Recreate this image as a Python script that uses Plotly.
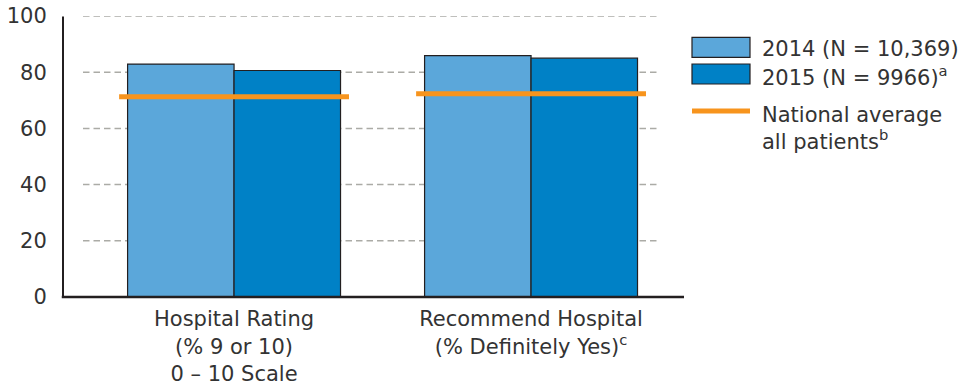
import plotly.graph_objects as go

# ---- data ----
categories = ["Hospital Rating<br>(% 9 or 10)<br>0 – 10 Scale",
              "Recommend Hospital<br>(% Definitely Yes)<sup>c</sup>"]
series_names = ["2014 (N = 10,369)", "2015 (N = 9966)<sup>a</sup>"]
values_2014 = [82.9, 85.9]
values_2015 = [80.6, 85.0]
national_avg = [71.3, 72.3]
national_label = "National average<br>all patients<sup>b</sup>"
y_ticks = [0, 20, 40, 60, 80, 100]

# ---- styles ----
LIGHT = "#5BA7DA"
DARK = "#0081C6"
ORANGE = "#F7941D"
OUTLINE = "#231F20"
TEXT = "#333333"
GRID = "#ABABA6"
FONT = "DejaVu Sans"
FS = 21

W, H = 958, 390
ML, MR, MT, MB = 63, 274, 16, 93
plot_w = W - ML - MR
plot_h = H - MT - MB

def px_x(p):
    return (p - ML) / plot_w

def px_y(p):
    return (H - MB - p) / plot_h

xpos = list(range(len(categories)))
fig = go.Figure()
fig.add_trace(go.Bar(x=xpos, y=values_2014, name=series_names[0],
                     marker=dict(color=LIGHT, line=dict(color=OUTLINE, width=1.2)),
                     showlegend=False))
fig.add_trace(go.Bar(x=xpos, y=values_2015, name=series_names[1],
                     marker=dict(color=DARK, line=dict(color=OUTLINE, width=1.2)),
                     showlegend=False))

half = 0.387
for i, v in zip(xpos, national_avg):
    fig.add_trace(go.Scatter(x=[i - half, i + half], y=[v, v], mode="lines",
                             line=dict(color=ORANGE, width=5), showlegend=False,
                             hoverinfo="skip"))

shapes = []
for t in y_ticks[1:]:
    shapes.append(dict(type="line", xref="paper", yref="y",
                       x0=px_x(83), x1=px_x(660), y0=t, y1=t,
                       line=dict(color=GRID, width=1.5, dash="6.5px,4px"),
                       layer="below"))
# axes lines
shapes.append(dict(type="line", xref="paper", yref="paper", x0=0, x1=0,
                   y0=0, y1=px_y(16.5), line=dict(color=OUTLINE, width=2)))
shapes.append(dict(type="line", xref="paper", yref="paper", x0=-0.002, x1=px_x(684),
                   y0=0, y1=0, line=dict(color=OUTLINE, width=2.5)))

# custom legend
sw_x0, sw_x1 = px_x(692), px_x(750)
shapes.append(dict(type="rect", xref="paper", yref="paper", x0=sw_x0, x1=sw_x1,
                   y0=px_y(57.3), y1=px_y(37.3), fillcolor=LIGHT,
                   line=dict(color=OUTLINE, width=1.2)))
shapes.append(dict(type="rect", xref="paper", yref="paper", x0=sw_x0, x1=sw_x1,
                   y0=px_y(84), y1=px_y(64), fillcolor=DARK,
                   line=dict(color=OUTLINE, width=1.2)))
shapes.append(dict(type="line", xref="paper", yref="paper", x0=sw_x0, x1=sw_x1,
                   y0=px_y(111), y1=px_y(111), line=dict(color=ORANGE, width=5)))

annotations = [
    dict(xref="paper", yref="paper", x=px_x(760), y=px_y(49), text=series_names[0],
         showarrow=False, xanchor="left", yanchor="middle",
         font=dict(family=FONT, size=FS, color=TEXT)),
    dict(xref="paper", yref="paper", x=px_x(760), y=px_y(75.5), text=series_names[1],
         showarrow=False, xanchor="left", yanchor="middle",
         font=dict(family=FONT, size=FS, color=TEXT)),
    dict(xref="paper", yref="paper", x=px_x(760), y=px_y(128), text=national_label,
         showarrow=False, xanchor="left", yanchor="middle", align="left",
         font=dict(family=FONT, size=FS, color=TEXT)),
]

fig.update_layout(
    width=W, height=H,
    margin=dict(l=ML, r=MR, t=MT, b=MB, pad=0, autoexpand=False),
    paper_bgcolor="white", plot_bgcolor="white",
    barmode="group", bargap=0.283, bargroupgap=0,
    font=dict(family=FONT, size=FS, color=TEXT),
    shapes=shapes, annotations=annotations,
    xaxis=dict(range=[-0.576, 1.515], tickmode="array", tickvals=xpos,
               ticktext=categories, showgrid=False, zeroline=False, showline=False,
               ticks="outside", ticklen=3, tickcolor="rgba(0,0,0,0)", automargin=False,
               tickfont=dict(family=FONT, size=FS, color=TEXT)),
    yaxis=dict(range=[0, 100], tickmode="array", tickvals=y_ticks,
               showgrid=False, zeroline=False, showline=False,
               ticks="outside", ticklen=11, tickcolor="rgba(0,0,0,0)", automargin=False,
               tickfont=dict(family=FONT, size=FS, color=TEXT)),
    showlegend=False,
)

fig.write_html("out.html")
